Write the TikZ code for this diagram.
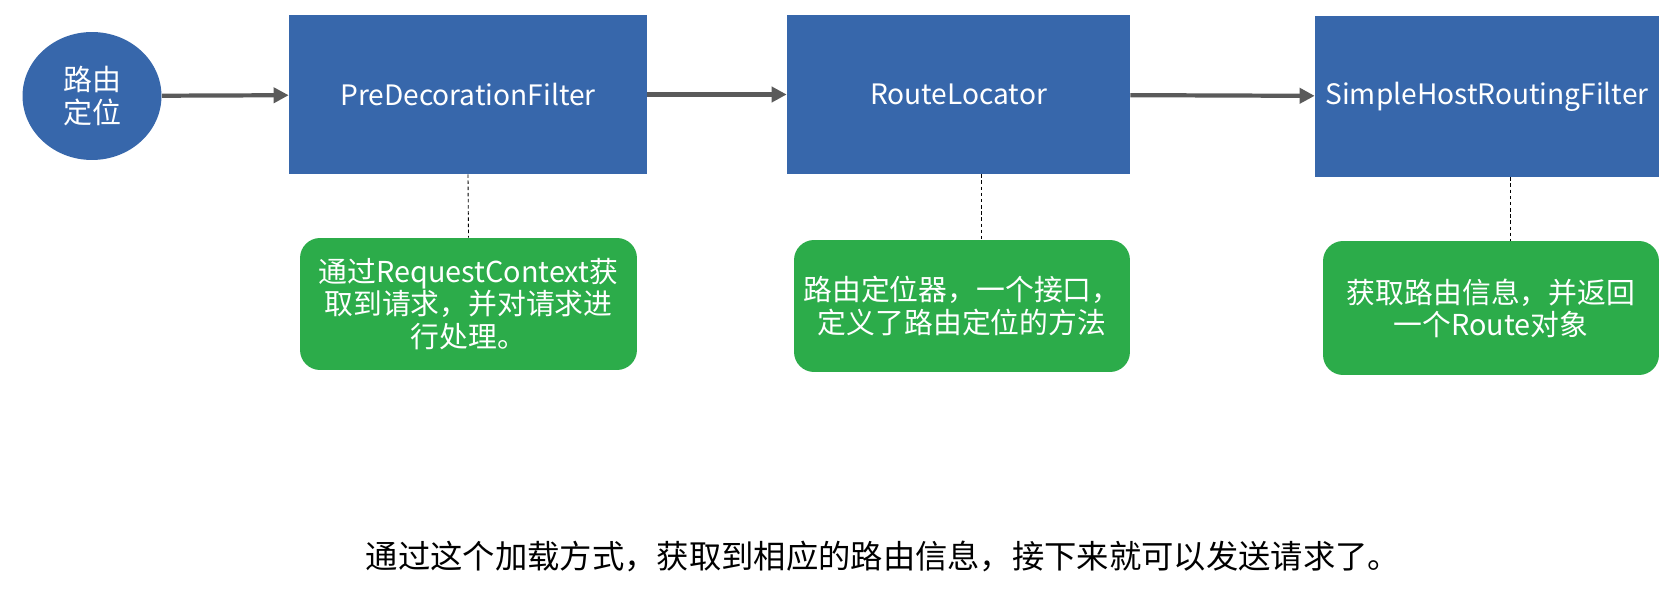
\documentclass[tikz,border=0pt]{standalone}
\usepackage{fontspec}
\setmainfont{Noto Sans CJK SC}
\usetikzlibrary{calc, arrows.meta, shapes.geometric}

\definecolor{boxblue}{HTML}{3767AB}
\definecolor{notegreen}{HTML}{2CAC4A}
\definecolor{arrowgray}{HTML}{5A5A5A}

\begin{document}
\begin{tikzpicture}[x=0.02cm, y=-0.02cm,
    filter/.style={rectangle, fill=boxblue, text=white, inner sep=0pt,
        font=\fontsize{16}{18}\selectfont},
    note/.style={rectangle, rounded corners=0.4cm, fill=notegreen, text=white,
        align=center, inner sep=0pt, font=\fontsize{16.4}{18.3}\selectfont},
    flow/.style={-{Triangle[length=0.3cm, width=0.3cm]}, arrowgray, line width=2.4pt},
    link/.style={dashed, dash pattern=on 2pt off 1.5pt, line width=0.5pt}]

    \useasboundingbox (0,0) rectangle (1678,594);

    \coordinate (O) at (92,96);
    \coordinate (B1) at (468,94.5);
    \coordinate (B2) at (958.5,94.5);
    \coordinate (B3) at (1487,96.5);
    \coordinate (N1) at (468.5,304);
    \coordinate (N2) at (962,306);
    \coordinate (N3) at (1491,308);
    \coordinate (D2) at (981,0);
    \coordinate (D3) at (1510,0);

    \node[ellipse, fill=boxblue, text=white, align=center, inner sep=0pt,
        minimum width=2.78cm, minimum height=2.56cm,
        font=\fontsize{16.5}{19}\selectfont] (start) at (O) {路由\\定位};

    \node[filter, minimum width=7.16cm, minimum height=3.18cm] (pre) at (B1) {PreDecorationFilter};
    \node[filter, minimum width=6.86cm, minimum height=3.18cm] (locator) at (B2) {RouteLocator};
    \node[filter, minimum width=6.88cm, minimum height=3.22cm] (simple) at (B3) {SimpleHostRoutingFilter};

    \node[note, minimum width=6.74cm, minimum height=2.64cm] (preNote) at (N1)
        {通过RequestContext获\\取到请求，并对请求进\\行处理。};
    \node[note, minimum width=6.72cm, minimum height=2.64cm] (locatorNote) at (N2)
        {路由定位器，一个接口，\\定义了路由定位的方法};
    \node[note, minimum width=6.72cm, minimum height=2.68cm] (simpleNote) at (N3)
        {获取路由信息，并返回\\一个Route对象};

    \draw[flow] (start) -- (pre);
    \draw[flow] (pre) -- (locator);
    \draw[flow] (locator) -- (simple);

    \draw[link] (pre.south) -- (preNote.north);
    \draw[link] (locator.south -| D2) -- (locatorNote.north -| D2);
    \draw[link] (simple.south -| D3) -- (simpleNote.north -| D3);

    \node[font=\fontsize{18.4}{22}\selectfont] (summary) at (883,556)
        {通过这个加载方式，获取到相应的路由信息，接下来就可以发送请求了。};

\end{tikzpicture}
\end{document}
